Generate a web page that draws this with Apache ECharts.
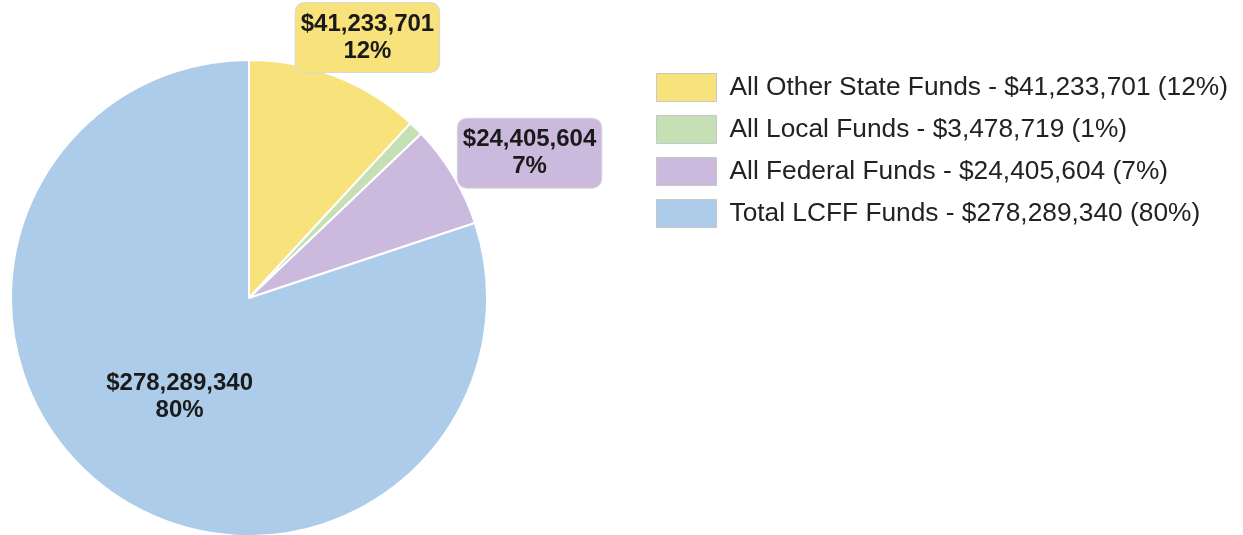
<!DOCTYPE html>
<html><head><meta charset="utf-8">
<script src="https://cdn.jsdelivr.net/npm/echarts@6/dist/echarts.min.js"></script>
<style>html,body{margin:0;padding:0;background:#fff}#c{width:1243px;height:535px}</style>
</head><body><div id="c"></div>
<script>
const categories = ['All Other State Funds', 'All Local Funds', 'All Federal Funds', 'Total LCFF Funds'];
const values = [41233701, 3478719, 24405604, 278289340];
const colors = ['#f8e27c', '#c6e0b6', '#cbbade', '#acccea'];
const labelOffsets = [[74, -147], null, [176, -82], [2, 0]];

const total = values.reduce((a, b) => a + b, 0);
const fmt = v => '$' + v.toLocaleString('en-US');
const pct = v => Math.round(v / total * 100);
const FONT = '"Liberation Sans", Arial, sans-serif';

const data = categories.map((name, i) => {
  const item = { name: name, value: values[i], itemStyle: { color: colors[i] } };
  if (labelOffsets[i]) {
    item.label = { offset: labelOffsets[i], backgroundColor: i === 3 ? 'transparent' : colors[i],
      borderColor: i === 3 ? 'transparent' : '#d8d8d8', borderWidth: i === 3 ? 0 : 1 };
  } else {
    item.label = { show: false };
  }
  return item;
});

const chart = echarts.init(document.getElementById('c'), null, { renderer: 'canvas' });
chart.setOption({
  animation: false,
  legend: {
    orient: 'vertical', left: 651, top: 68,
    itemWidth: 60, itemHeight: 28, itemGap: 13,
    icon: 'rect',
    itemStyle: { borderColor: '#c8c8c8', borderWidth: 1 },
    textStyle: { fontFamily: FONT, fontSize: 26.3, color: '#222', padding: [0, 0, 0, 8] },
    formatter: name => {
      const i = categories.indexOf(name);
      return name + ' - ' + fmt(values[i]) + ' (' + pct(values[i]) + '%)';
    },
    selectedMode: false
  },
  series: [{
    type: 'pie',
    center: [249, 298],
    radius: [0, 238],
    startAngle: 90,
    clockwise: true,
    avoidLabelOverlap: false,
    percentPrecision: 0,
    itemStyle: { borderColor: '#fff', borderWidth: 2 },
    label: {
      show: true, position: 'inside',
      formatter: p => fmt(p.value) + '\n' + pct(p.value) + '%',
      fontFamily: FONT, fontSize: 24, fontWeight: 'bold',
      color: '#1a1a1a', lineHeight: 27, align: 'center',
      padding: [8, 5, 7, 5], borderRadius: 9
    },
    labelLine: { show: false },
    emphasis: { disabled: true },
    data: data
  }]
});
</script></body></html>
